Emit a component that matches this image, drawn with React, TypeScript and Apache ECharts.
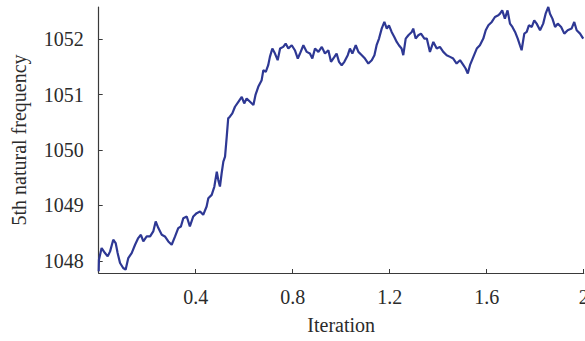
import React, { useEffect, useRef } from "react";
import * as echarts from "echarts";

// Iteration (x) and 5th natural frequency (y) along the sampling run
const iterations = [
  0.000, 0.001, 0.012, 0.026, 0.037, 0.047, 0.060, 0.070, 0.078, 0.088,
  0.101, 0.111, 0.122, 0.136, 0.150, 0.163, 0.174, 0.184, 0.198, 0.212,
  0.225, 0.235, 0.246, 0.260, 0.273, 0.287, 0.301, 0.315, 0.328, 0.339,
  0.349, 0.363, 0.376, 0.390, 0.404, 0.418, 0.431, 0.445, 0.452, 0.466,
  0.477, 0.487, 0.493, 0.500, 0.507, 0.514, 0.521, 0.528, 0.534, 0.541,
  0.551, 0.562, 0.576, 0.590, 0.600, 0.610, 0.624, 0.638, 0.647, 0.658,
  0.672, 0.679, 0.689, 0.699, 0.706, 0.716, 0.727, 0.738, 0.748, 0.761,
  0.771, 0.782, 0.796, 0.809, 0.821, 0.830, 0.844, 0.858, 0.871, 0.881,
  0.892, 0.906, 0.920, 0.933, 0.947, 0.958, 0.972, 0.981, 0.991, 1.002,
  1.013, 1.027, 1.036, 1.046, 1.060, 1.071, 1.085, 1.098, 1.112, 1.126,
  1.137, 1.146, 1.156, 1.167, 1.178, 1.188, 1.197, 1.208, 1.219, 1.229,
  1.238, 1.249, 1.256, 1.266, 1.277, 1.291, 1.297, 1.307, 1.318, 1.329,
  1.343, 1.353, 1.366, 1.380, 1.394, 1.407, 1.421, 1.435, 1.449, 1.462,
  1.476, 1.490, 1.504, 1.513, 1.522, 1.531, 1.545, 1.559, 1.572, 1.586,
  1.596, 1.607, 1.621, 1.634, 1.648, 1.655, 1.664, 1.675, 1.686, 1.696,
  1.706, 1.717, 1.728, 1.737, 1.744, 1.755, 1.765, 1.774, 1.786, 1.796,
  1.806, 1.820, 1.833, 1.843, 1.854, 1.861, 1.871, 1.882, 1.893, 1.907,
  1.920, 1.934, 1.950, 1.961, 1.971, 1.985, 1.998,
];

const frequency = [
  1047.81, 1048.02, 1048.23, 1048.14, 1048.08, 1048.17, 1048.38, 1048.32, 1048.14, 1047.96,
  1047.87, 1047.84, 1048.05, 1048.14, 1048.29, 1048.41, 1048.47, 1048.35, 1048.44, 1048.44,
  1048.53, 1048.71, 1048.59, 1048.47, 1048.44, 1048.35, 1048.29, 1048.44, 1048.59, 1048.62,
  1048.77, 1048.80, 1048.62, 1048.80, 1048.86, 1048.89, 1048.83, 1048.98, 1049.13, 1049.19,
  1049.34, 1049.61, 1049.46, 1049.34, 1049.58, 1049.79, 1049.88, 1050.24, 1050.57, 1050.60,
  1050.66, 1050.78, 1050.87, 1050.96, 1050.84, 1050.93, 1050.87, 1050.81, 1051.00, 1051.14,
  1051.26, 1051.44, 1051.41, 1051.53, 1051.68, 1051.83, 1051.74, 1051.62, 1051.83, 1051.86,
  1051.92, 1051.83, 1051.89, 1051.80, 1051.65, 1051.74, 1051.89, 1051.77, 1051.74, 1051.65,
  1051.83, 1051.77, 1051.86, 1051.74, 1051.80, 1051.59, 1051.68, 1051.74, 1051.59, 1051.53,
  1051.59, 1051.71, 1051.83, 1051.74, 1051.89, 1051.77, 1051.71, 1051.65, 1051.56, 1051.62,
  1051.71, 1051.89, 1052.01, 1052.19, 1052.31, 1052.19, 1052.25, 1052.13, 1052.04, 1051.95,
  1051.89, 1051.83, 1051.71, 1052.01, 1052.07, 1052.13, 1052.19, 1052.01, 1052.07, 1052.10,
  1052.01, 1052.01, 1051.77, 1051.95, 1051.83, 1051.86, 1051.77, 1051.71, 1051.68, 1051.65,
  1051.56, 1051.62, 1051.53, 1051.47, 1051.38, 1051.53, 1051.68, 1051.83, 1051.89, 1052.01,
  1052.16, 1052.25, 1052.31, 1052.40, 1052.43, 1052.46, 1052.52, 1052.37, 1052.52, 1052.28,
  1052.22, 1052.13, 1052.01, 1051.89, 1051.80, 1052.10, 1052.13, 1052.25, 1052.22, 1052.34,
  1052.28, 1052.16, 1052.28, 1052.46, 1052.58, 1052.46, 1052.37, 1052.22, 1052.28, 1052.22,
  1052.10, 1052.16, 1052.19, 1052.31, 1052.16, 1052.10, 1052.01,
];

const xTickLabels = [0.4, 0.8, 1.2, 1.6, 2];
const yTickLabels = [1048, 1049, 1050, 1051, 1052];

const FONT = "'Liberation Serif', 'Times New Roman', serif";
const AXIS_COLOR = "#3a3a3a";
const TEXT_COLOR = "#2b2b2b";

export default function App() {
  const ref = useRef<HTMLDivElement>(null);

  useEffect(() => {
    if (!ref.current) return;
    const chart = echarts.init(ref.current, undefined, { renderer: "svg" });
    chart.setOption({
      animation: false,
      backgroundColor: "#ffffff",
      grid: {
        left: 98.7,
        right: 1.3,
        top: 7,
        bottom: 68,
        containLabel: false,
        outerBoundsMode: "none",
      },
      xAxis: {
        type: "value",
        min: 0,
        max: 2,
        name: "Iteration",
        nameLocation: "middle",
        nameGap: 42,
        nameTextStyle: { fontFamily: FONT, fontSize: 20, color: TEXT_COLOR },
        axisLine: { lineStyle: { color: AXIS_COLOR, width: 1.2 } },
        axisTick: {
          inside: true,
          length: 4,
          customValues: xTickLabels,
          lineStyle: { color: AXIS_COLOR },
        },
        axisLabel: {
          customValues: xTickLabels,
          margin: 14,
          fontFamily: FONT,
          fontSize: 20,
          color: TEXT_COLOR,
          hideOverlap: false,
          formatter: (v: number) => String(v),
        },
        splitLine: { show: false },
      },
      yAxis: {
        type: "value",
        min: 1047.78,
        max: 1052.58,
        name: "5th natural frequency",
        nameLocation: "middle",
        nameGap: 70,
        nameRotate: 90,
        nameTextStyle: { fontFamily: FONT, fontSize: 20, color: TEXT_COLOR },
        axisLine: { show: true, lineStyle: { color: AXIS_COLOR, width: 1.2 } },
        axisTick: {
          show: true,
          inside: true,
          length: 4,
          customValues: yTickLabels,
          lineStyle: { color: AXIS_COLOR },
        },
        axisLabel: {
          customValues: yTickLabels,
          margin: 15,
          fontFamily: FONT,
          fontSize: 20,
          color: TEXT_COLOR,
          formatter: (v: number) => String(v),
        },
        splitLine: { show: false },
      },
      series: [
        {
          type: "line",
          data: iterations.map((x, i) => [x, frequency[i]]),
          showSymbol: false,
          clip: true,
          lineStyle: { color: "#2e3894", width: 2.2 },
        },
      ],
    });
    return () => chart.dispose();
  }, []);

  return (
    <div
      ref={ref}
      style={{ position: "absolute", left: 0, top: 0, width: 585, height: 341 }}
    />
  );
}
